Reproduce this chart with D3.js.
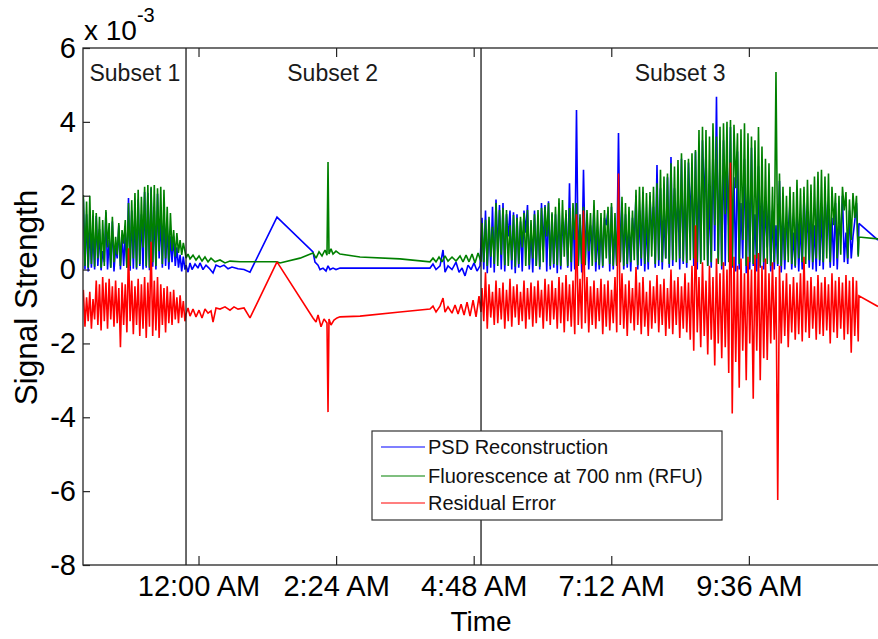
<!DOCTYPE html>
<html>
<head>
<meta charset="utf-8">
<script src="https://cdn.jsdelivr.net/npm/d3@7"></script>
<style>
  body { margin: 0; background: #fff; }
  text { font-family: "Liberation Sans", Arial, Helvetica, sans-serif; }
</style>
</head>
<body>
<div id="chart"></div>
<script>
// ---- data (signal values in units of 1e-3, time in hours after midnight) ----
const seriesNames = ["PSD Reconstruction", "Fluorescence at 700 nm (RFU)", "Residual Error"];
const subsetNames = ["Subset 1", "Subset 2", "Subset 3"];
const subsetEdges = [-0.218, 4.928];
const xTickHours = [0, 2.4, 4.8, 7.2, 9.6];
const yTicks = [-8, -6, -4, -2, 0, 2, 4, 6];

// subset 1: dense sampling, one peak + one trough per cycle
const s1Span = [-2.009, -0.265];
const blueHi1 = [1.9, 1.5, 1.2, 1.0, 1.45, 1.1, 0.5, 1.55, 0.8, 1.3,
  0.6, 1.2, 0.9, 1.0, 1.94, 1.6, 1.5, 1.9, 1.5, 2.1,
  2.07, 2.2, 1.6, 2.05, 1.4, 1.5, 1.2, 0.9, 0.9, 0.6,
  0.4, 0.35];
const blueLo1 = [0.0, -0.05, 0.05, 0.0, 0.1, -0.02, 0.2, 0.0, 0.05, -0.05,
  0.3, 0.0, 0.1, 0.05, -0.03, 0.02, 0.0, 0.1, 0.0, 0.05,
  -0.02, 0.08, 0.0, 0.3, 0.05, 0.1, 0.0, 0.2, 0.1, 0.05,
  -0.05, 0.0];
const greenHi1 = [2.02, 1.84, 2.0, 1.61, 1.53, 1.43, 1.34, 1.61, 1.26, 1.43,
  0.89, 1.26, 1.07, 1.34, 1.8, 1.88, 2.07, 2.16, 1.97, 2.24,
  2.29, 2.24, 2.29, 2.2, 2.24, 2.16, 1.7, 1.53, 1.07, 0.99,
  0.8, 0.72];
const greenLo1 = [0.1, 0.05, 0.15, 0.08, 0.3, 0.05, 0.1, 0.6, 0.05, 0.2,
  0.4, 0.1, 0.7, 0.05, 0.1, 0.3, 0.05, 0.15, 0.6, 0.1,
  0.05, 0.2, 0.1, 0.5, 0.15, 0.3, 0.2, 0.5, 0.35, 0.45,
  0.4, 0.5];
const redHi1 = [-0.55, -0.75, -0.6, -0.8, -0.3, -0.4, -0.2, -0.35, -0.25, -0.45,
  -0.3, -0.5, -0.35, -0.4, 0.58, -0.3, -0.45, -0.25, -0.4, -0.2,
  -0.35, 0.75, -0.3, -0.2, -0.4, -0.5, -0.45, -0.6, -0.55, -0.75,
  -0.7, -0.85];
const redLo1 = [-1.55, -1.4, -1.6, -1.35, -1.5, -1.65, -1.4, -1.6, -1.35, -1.55,
  -1.45, -2.1, -1.5, -1.7, -1.4, -1.75, -1.5, -1.8, -1.6, -1.85,
  -1.55, -1.8, -1.65, -1.85, -1.5, -1.7, -1.45, -1.5, -1.35, -1.45,
  -1.3, -1.4];

// subset 2: sparse samples
const blueTime2 = [-0.218, -0.183, -0.148, -0.113, -0.061, -0.009, 0.026, 0.078, 0.131, 0.183,
  0.253, 0.305, 0.375, 0.445, 0.515, 0.584, 0.689, 0.794, 0.898, 1.369,
  1.997, 2.032, 2.085, 2.119, 2.172, 2.224, 2.259, 2.294, 2.346, 2.398,
  2.468, 3.515, 4.038, 4.09, 4.143, 4.213, 4.265, 4.3, 4.352, 4.422,
  4.492, 4.545, 4.597, 4.649, 4.701, 4.754, 4.806, 4.858, 4.911];
const blueVal2 = [0.12, -0.07, 0.18, 0.0, 0.15, 0.04, 0.18, 0.0, 0.12, 0.04,
  -0.09, 0.12, 0.07, 0.12, 0.02, 0.07, 0.02, 0.0, -0.07, 1.42,
  0.48, 0.2, 0.12, 0.0, 0.04, -0.04, 0.1, 0.0, 0.04, 0.0,
  0.04, 0.04, 0.04, 0.15, 0.0, 0.1, 0.53, -0.07, 0.1, 0.0,
  0.2, -0.07, 0.04, -0.17, 0.12, 0.0, 0.18, -0.04, 0.1];
const greenTime2 = [-0.218, -0.183, -0.148, -0.096, -0.044, 0.009, 0.061, 0.113, 0.166, 0.218,
  0.288, 0.375, 0.462, 0.549, 0.724, 0.898, 1.369, 1.422, 1.771, 1.997,
  2.05, 2.102, 2.154, 2.207, 2.241, 2.259, 2.276, 2.311, 2.346, 2.398,
  2.468, 2.817, 3.515, 4.038, 4.09, 4.143, 4.195, 4.248, 4.3, 4.352,
  4.422, 4.492, 4.562, 4.614, 4.667, 4.719, 4.771, 4.823, 4.876, 4.928];
const greenVal2 = [0.31, 0.42, 0.29, 0.39, 0.26, 0.37, 0.23, 0.34, 0.21, 0.31,
  0.21, 0.26, 0.18, 0.23, 0.21, 0.21, 0.21, 0.18, 0.31, 0.45,
  0.31, 0.48, 0.37, 0.53, 0.39, 2.91, 0.42, 0.56, 0.42, 0.5,
  0.42, 0.34, 0.29, 0.21, 0.31, 0.21, 0.34, 0.21, 0.37, 0.23,
  0.34, 0.23, 0.37, 0.21, 0.39, 0.21, 0.42, 0.18, 0.45, 0.21];
const redTime2 = [-0.218, -0.183, -0.148, -0.096, -0.044, 0.009, 0.061, 0.113, 0.166, 0.218,
  0.253, 0.305, 0.375, 0.462, 0.549, 0.619, 0.689, 0.794, 0.898, 1.369,
  1.997, 2.05, 2.085, 2.137, 2.189, 2.241, 2.259, 2.276, 2.311, 2.363,
  2.416, 2.468, 2.817, 3.515, 4.038, 4.09, 4.143, 4.213, 4.265, 4.3,
  4.352, 4.422, 4.475, 4.527, 4.58, 4.632, 4.684, 4.736, 4.789, 4.841,
  4.893, 4.928];
const redVal2 = [-1.2, -1.04, -1.26, -1.07, -1.28, -1.1, -1.31, -1.07, -1.18, -1.12,
  -1.42, -1.04, -1.07, -1.01, -1.1, -1.01, -1.07, -1.04, -1.31, 0.21,
  -1.31, -1.42, -1.23, -1.55, -1.34, -1.45, -3.86, -1.34, -1.5, -1.37,
  -1.31, -1.28, -1.26, -1.15, -1.07, -0.99, -1.15, -0.99, -0.77, -1.15,
  -1.01, -1.18, -0.96, -1.2, -0.94, -1.23, -0.88, -1.26, -0.83, -1.28,
  -0.72, -1.15];

// subset 3: dense sampling again
const s3Span = [4.945, 11.477];
const blueHi3 = [1.4, 1.6, 1.3, 1.7, 1.9, 1.75, 1.8, 1.5, 1.6, 1.55,
  1.5, 1.3, 1.6, 1.75, 1.1, 1.6, 1.4, 1.8, 1.75, 1.85,
  1.5, 1.5, 1.8, 1.2, 1.5, 2.34, 1.6, 4.32, 1.4, 2.7,
  1.5, 1.2, 1.7, 1.0, 1.4, 1.4, 1.6, 1.7, 1.2, 3.7,
  1.8, 1.5, 1.2, 1.4, 2.0, 1.6, 2.1, 1.3, 2.0, 1.7,
  2.83, 2.2, 1.5, 2.5, 3.05, 2.2, 2.0, 3.0, 2.4, 2.9,
  2.5, 3.2, 2.6, 3.5, 3.2, 2.0, 3.4, 4.68, 3.0, 3.5,
  3.0, 3.86, 2.5, 3.2, 1.8, 3.0, 2.2, 3.3, 1.5, 2.8,
  2.2, 1.8, 2.0, 1.6, 1.2, 2.4, 1.5, 1.2, 1.8, 1.0,
  1.6, 1.3, 2.0, 1.4, 1.8, 1.2, 2.2, 1.6, 2.0, 1.5,
  1.4, 1.8, 1.2, 2.0, 1.0, 1.6, 0.9, 1.8];
const blueLo3 = [0.0, -0.1, 0.05, -0.08, 0.5, 0.0, -0.05, 0.9, 0.0, -0.1,
  0.05, -0.05, 1.0, 0.0, -0.08, 0.1, 0.0, 0.6, -0.05, 0.0,
  0.05, -0.1, 0.0, 0.8, 0.05, -0.05, 0.0, 0.1, -0.08, 0.3,
  0.0, 0.5, -0.05, 0.0, 0.05, 1.2, -0.05, 0.0, 0.1, 0.2,
  0.0, 0.05, -0.05, 0.7, 0.0, 0.1, -0.05, 0.0, 0.9, 0.05,
  0.1, 0.0, 0.3, 0.05, 0.1, 1.0, 0.0, 0.15, 0.05, 1.4,
  0.1, 0.0, 0.2, 1.8, 0.1, 0.05, 0.5, 0.2, 0.0, 0.1,
  1.2, 0.05, -0.05, 0.0, 0.3, -0.1, 0.0, 0.1, -0.05, 0.05,
  0.0, 0.6, -0.05, 0.0, 0.1, -0.08, 0.0, 1.0, 0.0, 0.05,
  -0.05, 0.0, 0.8, 0.05, 0.0, -0.05, 0.1, 0.0, 1.1, 0.05,
  0.1, 0.0, 0.9, 0.2, 0.15, 0.3, 1.3, 0.4];
const greenHi3 = [1.26, 1.35, 1.43, 1.16, 1.8, 1.61, 1.67, 1.61, 1.2, 1.48,
  1.4, 1.43, 1.53, 1.61, 1.34, 1.5, 1.61, 1.67, 1.7, 1.8,
  1.55, 1.7, 1.93, 1.88, 1.61, 1.67, 1.8, 1.8, 1.5, 1.7,
  1.61, 1.53, 1.88, 1.61, 1.53, 1.61, 1.7, 1.8, 1.53, 1.88,
  1.97, 1.8, 1.7, 1.6, 2.16, 2.24, 2.24, 2.07, 2.1, 2.24,
  2.34, 2.7, 2.52, 2.6, 2.88, 2.79, 2.97, 3.15, 2.97, 3.0,
  3.15, 3.24, 3.78, 3.87, 3.78, 3.6, 3.96, 3.6, 3.87, 3.96,
  4.0, 4.05, 3.92, 3.69, 3.8, 3.96, 3.69, 3.6, 3.5, 3.86,
  3.33, 3.0, 2.88, 2.24, 5.35, 2.6, 2.24, 2.0, 2.24, 2.1,
  2.43, 2.2, 2.24, 2.43, 2.3, 2.52, 2.65, 2.7, 2.52, 2.6,
  2.24, 2.07, 2.0, 2.24, 2.1, 1.9, 2.07, 2.0];
const greenLo3 = [0.2, 0.1, 0.35, 0.15, 0.1, 0.4, 0.12, 0.1, 0.25, 0.08,
  0.15, 0.6, 0.1, 0.12, 0.3, 0.1, 0.08, 0.2, 0.9, 0.1,
  0.15, 0.12, 0.1, 0.35, 0.1, 0.2, 0.8, 0.1, 0.15, 0.12,
  0.5, 0.1, 0.2, 0.12, 0.1, 0.3, 0.15, 0.1, 0.12, 0.2,
  0.1, 0.15, 0.2, 0.25, 0.12, 0.3, 0.15, 0.2, 0.35, 0.15,
  0.25, 0.2, 0.3, 0.15, 0.25, 0.2, 0.3, 0.22, 0.18, 0.25,
  0.3, 0.2, 0.15, 0.25, 0.1, 0.2, 1.2, 0.15, 0.1, 1.5,
  0.2, 0.1, 2.2, 0.15, 0.8, 0.1, 0.2, 0.15, 0.3, 0.1,
  0.2, 0.15, 0.1, 0.2, 0.15, 0.1, 0.25, 0.2, 0.15, 0.1,
  0.3, 0.2, 0.15, 0.25, 0.2, 0.3, 0.25, 0.2, 0.3, 0.2,
  1.2, 0.3, 0.4, 1.6, 0.3, 0.8, 1.4, 0.35];
const redHi3 = [-0.5, -0.07, -0.4, -0.6, -0.3, -0.5, -0.35, -0.55, -0.25, -0.45,
  -0.4, -0.6, -0.3, -0.5, -0.35, -0.45, -0.3, -0.55, -0.25, -0.4,
  -0.3, -0.5, -0.2, -0.35, -0.15, -0.4, -0.3, 1.5, -0.25, 1.6,
  -0.2, -0.45, -0.3, -0.5, -0.25, -0.4, -0.3, -0.55, -0.2, 2.6,
  -0.1, -0.4, -0.3, -0.5, 0.07, -0.35, -0.2, -0.6, -0.3, -0.45,
  -0.15, -0.4, -0.25, -0.5, 0.0, -0.3, -0.2, -0.45, -0.1, -0.35,
  0.1, 1.2, -0.2, 0.2, -0.3, 0.1, -0.2, 0.3, -0.1, 0.2,
  0.0, 2.9, 0.35, 0.1, 0.3, -0.1, 0.35, 0.0, 0.4, 0.45,
  0.1, 0.3, -0.1, 0.2, -0.2, 0.1, -0.3, -0.1, -0.4, -0.2,
  -0.35, -0.1, 0.35, -0.3, -0.2, -0.45, -0.15, -0.35, -0.2, -0.4,
  -0.1, -0.3, -0.2, -0.35, -0.15, -0.3, -0.2, -0.3];
const redLo3 = [-1.4, -1.6, -1.3, -1.5, -1.45, -1.35, -1.6, -1.4, -1.55, -1.3,
  -1.5, -1.4, -1.6, -1.35, -1.55, -1.45, -1.3, -1.6, -1.4, -1.5,
  -1.35, -1.6, -1.45, -1.7, -1.4, -1.55, -1.75, -1.5, -1.6, -1.45,
  -1.7, -1.5, -1.6, -1.4, -1.75, -1.55, -1.65, -1.45, -1.7, -1.5,
  -1.6, -1.8, -1.45, -1.65, -1.5, -1.75, -1.55, -1.8, -1.6, -1.45,
  -1.7, -1.5, -1.8, -1.6, -1.75, -1.5, -1.85, -1.6, -1.7, -1.9,
  -2.2, -1.7, -2.1, -1.8, -2.3, -1.9, -2.6, -2.0, -2.4, -2.1,
  -2.8, -3.9, -2.5, -3.2, -2.2, -3.0, -2.0, -3.5, -2.2, -3.0,
  -2.4, -2.45, -2.0, -1.9, -6.24, -2.0, -1.8, -2.1, -1.7, -1.9,
  -1.75, -1.95, -1.7, -1.85, -1.6, -1.9, -1.75, -1.8, -1.65, -2.0,
  -1.7, -1.85, -1.6, -1.9, -1.75, -2.25, -1.8, -1.95];

// trailing samples after subset 3
const tailTime = [11.52, 11.852];
const blueTail = [1.25, 0.8];
const greenTail = [0.88, 0.83];
const redTail = [-0.71, -1.0];

// ---- layout ----
const PLOT = { LEFT: 83, TOP: 48, WIDTH: 796, HEIGHT: 517 };
const colors = ["#0000ff", "#008000", "#ff0000"];

const day0 = Date.UTC(2013, 6, 9);
const toDate = (h) => new Date(day0 + h * 3600000);

const x = d3.scaleUtc().domain([toDate(-2.015), toDate(11.87)]).range([0, PLOT.WIDTH]);
const y = d3.scaleLinear().domain([-8, 6]).range([PLOT.HEIGHT, 0]);

function spikes(span, hi, lo) {
  const step = (span[1] - span[0]) / (hi.length - 1);
  const pts = [];
  hi.forEach((v, i) => {
    pts.push([span[0] + i * step, v]);
    pts.push([span[0] + (i + 0.5) * step, lo[i]]);
  });
  return pts;
}

const series = [
  [...spikes(s1Span, blueHi1, blueLo1), ...d3.zip(blueTime2, blueVal2),
   ...spikes(s3Span, blueHi3, blueLo3), ...d3.zip(tailTime, blueTail)],
  [...spikes(s1Span, greenHi1, greenLo1), ...d3.zip(greenTime2, greenVal2),
   ...spikes(s3Span, greenHi3, greenLo3), ...d3.zip(tailTime, greenTail)],
  [...spikes(s1Span, redHi1, redLo1), ...d3.zip(redTime2, redVal2),
   ...spikes(s3Span, redHi3, redLo3), ...d3.zip(tailTime, redTail)],
];

const svg = d3.select("#chart").append("svg")
  .attr("width", 878).attr("height", 639);

svg.append("defs").append("clipPath").attr("id", "plotclip")
  .append("rect").attr("width", PLOT.WIDTH).attr("height", PLOT.HEIGHT);

const g = svg.append("g").attr("transform", `translate(${PLOT.LEFT},${PLOT.TOP})`);

const line = d3.line()
  .x((d) => x(toDate(d[0])))
  .y((d) => y(d[1]));

g.append("g").attr("clip-path", "url(#plotclip)")
  .selectAll("path")
  .data(series)
  .join("path")
  .attr("d", line)
  .attr("fill", "none")
  .attr("stroke", (d, i) => colors[i])
  .attr("stroke-width", 1.6)
  .attr("stroke-linejoin", "miter")
  .attr("stroke-miterlimit", 2);

// subset separators
g.selectAll("line.edge")
  .data(subsetEdges)
  .join("line")
  .attr("class", "edge")
  .attr("x1", (d) => x(toDate(d))).attr("x2", (d) => x(toDate(d)))
  .attr("y1", 0).attr("y2", PLOT.HEIGHT)
  .attr("stroke", "#1a1a1a").attr("stroke-width", 1.3);

// subset labels
const subsetLabelHours = [-1.11, 2.34, 8.4];
g.selectAll("text.subset")
  .data(subsetNames)
  .join("text")
  .attr("class", "subset")
  .attr("x", (d, i) => x(toDate(subsetLabelHours[i])))
  .attr("y", 33)
  .attr("text-anchor", "middle")
  .attr("font-size", 23)
  .attr("fill", "#1a1a1a")
  .text((d) => d);

// axes, ticks pointing inward like matlab
const fmt = d3.utcFormat("%-I:%M %p");
const xTickDates = xTickHours.map(toDate);

const xAxis = g.append("g")
  .attr("transform", `translate(0,${PLOT.HEIGHT})`)
  .call(d3.axisBottom(x).tickValues(xTickDates).tickFormat(fmt)
    .tickSizeInner(-9).tickSizeOuter(0).tickPadding(10));

g.append("g")
  .call(d3.axisTop(x).tickValues(xTickDates).tickFormat("")
    .tickSizeInner(-9).tickSizeOuter(0));

const yAxis = g.append("g")
  .call(d3.axisLeft(y).tickValues(yTicks).tickFormat((d) => String(d))
    .tickSizeInner(-7).tickSizeOuter(0).tickPadding(7));

g.selectAll(".domain").remove();
g.selectAll(".tick line").attr("stroke", "#262626").attr("stroke-width", 1.2);
[xAxis, yAxis].forEach((a) => a.selectAll("text")
  .attr("font-size", 29)
  .attr("fill", "#000")
  .style("font-family", '"Liberation Sans", Arial, sans-serif'));

g.append("rect")
  .attr("width", PLOT.WIDTH).attr("height", PLOT.HEIGHT)
  .attr("fill", "none").attr("stroke", "#262626").attr("stroke-width", 1.3);

// exponent label
const expo = svg.append("text").attr("x", PLOT.LEFT + 1).attr("y", 40).attr("font-size", 28);
expo.append("tspan").text("x 10");
expo.append("tspan").attr("dy", -18).attr("font-size", 20).text("-3");

// axis titles
svg.append("text")
  .attr("x", PLOT.LEFT + PLOT.WIDTH / 2)
  .attr("y", 631)
  .attr("text-anchor", "middle")
  .attr("font-size", 28)
  .text("Time");

svg.append("text")
  .attr("transform", `translate(37,${PLOT.TOP + PLOT.HEIGHT / 2 - 9}) rotate(-90)`)
  .attr("text-anchor", "middle")
  .attr("font-size", 31.5)
  .text("Signal Strength");

// legend
const legend = svg.append("g").attr("transform", "translate(372,431)");
legend.append("rect")
  .attr("width", 350).attr("height", 89)
  .attr("fill", "#fff").attr("stroke", "#333").attr("stroke-width", 1.2);

const item = legend.selectAll("g.item")
  .data(seriesNames)
  .join("g")
  .attr("class", "item")
  .attr("transform", (d, i) => `translate(0,${[16, 45, 72][i]})`);

item.append("line")
  .attr("x1", 9).attr("x2", 53)
  .attr("stroke", (d, i) => colors[i])
  .attr("stroke-width", 1.2);

item.append("text")
  .attr("x", 56).attr("y", 7)
  .attr("font-size", 20)
  .attr("fill", "#111")
  .text((d) => d);
</script>
</body>
</html>
